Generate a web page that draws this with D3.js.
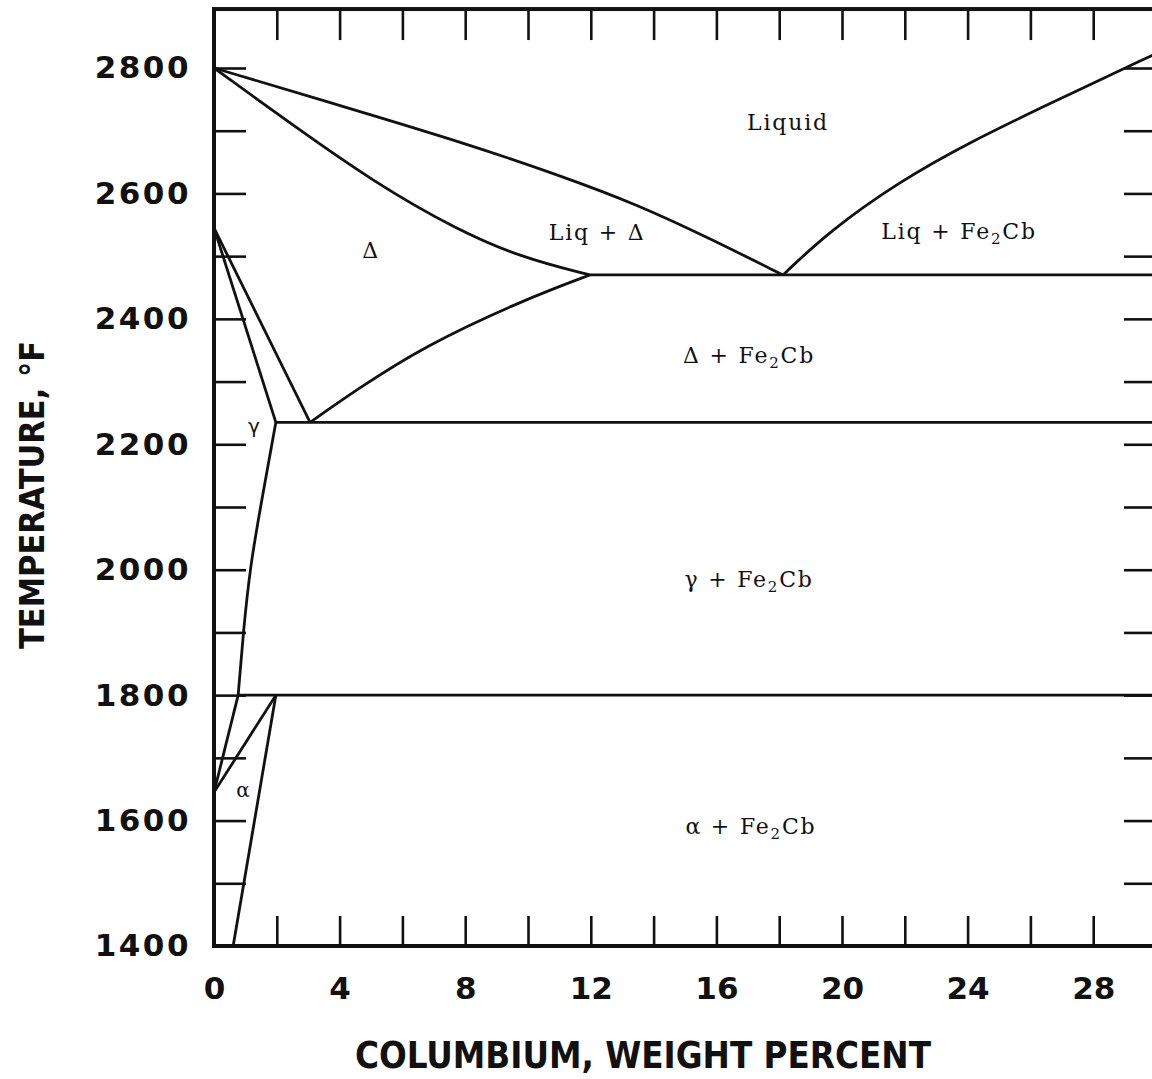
<!DOCTYPE html>
<html lang="en">
<head>
<meta charset="utf-8" />
<title>Fe-Cb phase diagram</title>
<style>
  html, body { margin: 0; padding: 0; background: #fff; overflow: hidden; }
  .boundary { fill: none; stroke: #111; stroke-width: 2.8; stroke-linejoin: round; }
  .frame { fill: none; stroke: #111; stroke-width: 4; }
  .ticks line { stroke: #111; stroke-width: 2.6; }
  .ticks .domain { display: none; }
  .ticklabels .domain, .ticklabels line { display: none; }
  .ticklabels text { font-family: "DejaVu Sans", sans-serif; font-weight: bold; font-size: 31px; fill: #111; }
  .ylabels text { letter-spacing: 2.5px; }
  .title { font-family: "DejaVu Sans Condensed", "DejaVu Sans", sans-serif; font-stretch: condensed; font-weight: bold; fill: #111; }
  .phase { font-family: "DejaVu Serif", serif; font-size: 22px; letter-spacing: 1.8px; fill: #111; }
</style>
</head>
<body>
<div id="chart"></div>
<script src="https://d3js.org/d3.v7.min.js"></script>
<script>
// axes
var xDomain = [0, 30];
var yDomain = [1400, 2800];
var yTop = 2894;
var xLabels = [0, 4, 8, 12, 16, 20, 24, 28];
var yLabels = [1400, 1600, 1800, 2000, 2200, 2400, 2600, 2800];
var xMinor = [2, 4, 6, 8, 10, 12, 14, 16, 18, 20, 22, 24, 26, 28];
var yMinor = [1500, 1600, 1700, 1800, 1900, 2000, 2100, 2200, 2300, 2400, 2500, 2600, 2700, 2800];

// phase boundaries, [wt% Cb, deg F]
var liquidusDelta = [[0, 2800], [4.5, 2733], [8.0, 2680], [11.0, 2629], [13.5, 2582], [15.8, 2528], [18.12, 2470]];
var solidusDelta = [[0, 2800], [2.42, 2712], [5.06, 2619], [7.73, 2542], [9.84, 2497], [11.97, 2470]];
var liquidusFe2Cb = [[18.12, 2470], [19.6, 2540], [21.83, 2619], [24.0, 2680], [26.64, 2744], [30, 2823]];
var deltaSolvus = [[3.06, 2235], [4.54, 2287], [6.67, 2356], [9.85, 2430], [11.97, 2470]];
var gammaSolvus = [[1.97, 2235], [1.52, 2111], [1.15, 2005], [0.93, 1899], [0.77, 1800]];
var peritectic = [[11.97, 2470], [30, 2470]];
var gammaDelta1 = [[0, 2545], [1.97, 2235]];
var gammaDelta2 = [[0, 2545], [3.06, 2235]];
var line2235 = [[1.97, 2235], [30, 2235]];
var line1800 = [[0.77, 1800], [30, 1800]];
var gammaAlpha = [[0.77, 1800], [0, 1645]];
var alphaGamma = [[0, 1645], [1.97, 1800]];
var alphaSolvus = [[1.97, 1800], [0.61, 1400]];

var curved = [liquidusDelta, solidusDelta, liquidusFe2Cb, deltaSolvus, gammaSolvus];
var straight = [peritectic, gammaDelta1, gammaDelta2, line2235, line1800, gammaAlpha, alphaGamma, alphaSolvus];

// phase field labels
var labelText = ["Liquid", "Liq + Δ", "Liq + Fe₂Cb", "Δ", "Δ + Fe₂Cb", "γ + Fe₂Cb", "α + Fe₂Cb"];
var labelX = [18.28, 12.2, 23.73, 5.0, 17.04, 17.04, 17.1];
var labelT = [2701, 2526, 2527, 2497, 2330, 1972, 1579];
var smallText = ["γ", "α"];
var smallX = [1.27, 0.92];
var smallT = [2218, 1638];

var width = 1152, height = 1079;

var x = d3.scaleLinear().domain(xDomain).range([214, 1156]);
var y = d3.scaleLinear().domain(yDomain).range([946, 68]);

var svg = d3.select("#chart")
            .append("svg")
            .attr("width", width)
            .attr("height", height)
            .style("background", "#fff");

// inner ticks on all four sides
svg.append("g").attr("class", "ticks")
   .attr("transform", "translate(0," + y(1400) + ")")
   .call(d3.axisTop(x).tickValues(xMinor).tickSize(30).tickFormat(""));
svg.append("g").attr("class", "ticks")
   .attr("transform", "translate(0," + y(yTop) + ")")
   .call(d3.axisBottom(x).tickValues(xMinor).tickSize(31).tickFormat(""));
svg.append("g").attr("class", "ticks")
   .attr("transform", "translate(" + x(0) + ",0)")
   .call(d3.axisRight(y).tickValues(yMinor).tickSize(32).tickFormat(""));
svg.append("g").attr("class", "ticks")
   .attr("transform", "translate(" + x(30) + ",0)")
   .call(d3.axisLeft(y).tickValues(yMinor).tickSize(32).tickFormat(""));

// tick labels
svg.append("g").attr("class", "ticklabels")
   .attr("transform", "translate(0," + y(1400) + ")")
   .call(d3.axisBottom(x).tickValues(xLabels).tickSize(0).tickPadding(31).tickFormat(d3.format("d")));
svg.append("g").attr("class", "ticklabels ylabels")
   .attr("transform", "translate(" + x(0) + ",0)")
   .call(d3.axisLeft(y).tickValues(yLabels).tickSize(0).tickPadding(23).tickFormat(d3.format("d")));
svg.selectAll(".ticklabels").attr("font-size", null).attr("font-family", null);

// frame
svg.append("rect").attr("class", "frame")
   .attr("x", x(0)).attr("y", y(yTop))
   .attr("width", x(30) - x(0))
   .attr("height", y(1400) - y(yTop));

function makeLine(curve) {
  return d3.line()
           .x(function(d) { return x(d[0]); })
           .y(function(d) { return y(d[1]); })
           .curve(curve);
}

svg.selectAll(".cv")
   .data(curved)
   .enter().append("path")
   .attr("class", "boundary cv")
   .attr("d", makeLine(d3.curveBasis));

svg.selectAll(".st")
   .data(straight)
   .enter().append("path")
   .attr("class", "boundary st")
   .attr("d", makeLine(d3.curveLinear));

// labels
var lab = svg.selectAll(".phase")
   .data(labelText)
   .enter().append("text")
   .attr("class", "phase")
   .attr("text-anchor", "middle")
   .attr("x", function(d, i) { return x(labelX[i]); })
   .attr("y", function(d, i) { return y(labelT[i]); });

lab.each(function(d) {
  var t = d3.select(this);
  var parts = d.split("₂");
  t.append("tspan").text(parts[0]);
  if (parts.length > 1) {
    t.append("tspan").attr("dy", 5).attr("font-size", "15px").text("2");
    t.append("tspan").attr("dy", -5).text(parts[1]);
  }
});

svg.selectAll(".small")
   .data(smallText)
   .enter().append("text")
   .attr("class", "small")
   .attr("text-anchor", "middle")
   .attr("font-family", function(d, i) { return i == 0 ? "DejaVu Sans" : "DejaVu Serif"; })
   .attr("font-size", "20px")
   .attr("fill", "#111")
   .attr("x", function(d, i) { return x(smallX[i]); })
   .attr("y", function(d, i) { return y(smallT[i]); })
   .text(function(d) { return d; });

// axis titles
svg.append("text").attr("class", "title")
   .attr("x", 643).attr("y", 1068)
   .attr("text-anchor", "middle")
   .attr("font-size", "38px")
   .attr("textLength", 576)
   .attr("lengthAdjust", "spacingAndGlyphs")
   .text("COLUMBIUM, WEIGHT PERCENT");

svg.append("text").attr("class", "title")
   .attr("transform", "translate(44,495) rotate(-90)")
   .attr("text-anchor", "middle")
   .attr("font-size", "34px")
   .attr("textLength", 308)
   .attr("lengthAdjust", "spacingAndGlyphs")
   .text("TEMPERATURE, °F");
</script>
</body>
</html>
